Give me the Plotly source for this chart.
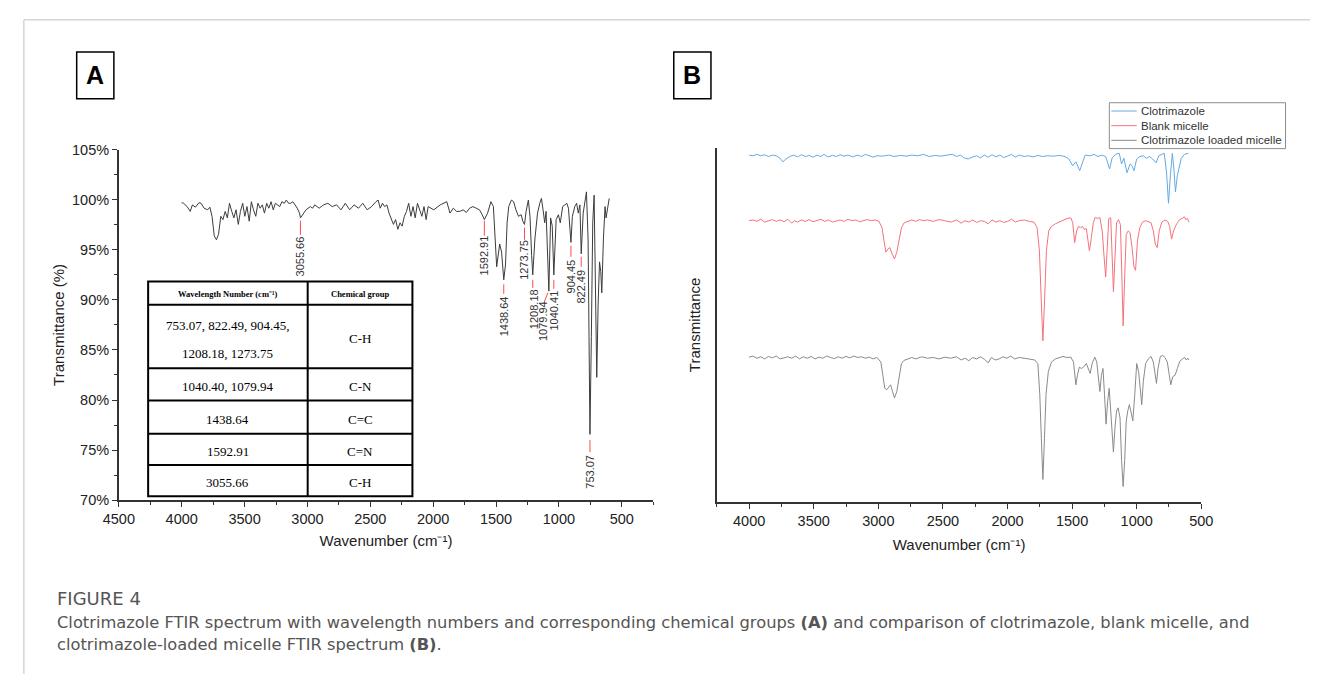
import plotly.graph_objects as go

W, H = 1322, 682

# ---------------- Panel A data: clotrimazole FTIR spectrum ----------------
wn_a = [4000, 3985, 3957, 3932, 3915, 3891, 3863, 3846, 3822, 3794, 3776, 3759, 3741, 3724, 3707,
        3689, 3672, 3654, 3637, 3620, 3602, 3585, 3568, 3550, 3533, 3515, 3498, 3481, 3463, 3446,
        3429, 3411, 3394, 3376, 3359, 3342, 3324, 3307, 3289, 3272, 3255, 3220, 3203, 3185, 3168,
        3150, 3133, 3116, 3081, 3063, 3055.66, 3029, 3011, 2977, 2959, 2942, 2907, 2872, 2838, 2803,
        2768, 2733, 2699, 2664, 2629, 2594, 2560, 2525, 2490, 2455, 2438, 2421, 2403, 2386, 2368,
        2351, 2334, 2316, 2299, 2281, 2264, 2247, 2229, 2212, 2195, 2177, 2160, 2143, 2125, 2108,
        2090, 2073, 2056, 2040, 1995, 1944, 1892, 1866, 1840, 1814, 1788, 1762, 1736, 1710, 1684,
        1658, 1632, 1610, 1592.91, 1567, 1541, 1521, 1502, 1495, 1471, 1456, 1438.64, 1425, 1412,
        1399, 1378, 1360, 1342, 1321, 1300, 1287, 1273.75, 1261, 1243, 1230, 1217, 1208.18, 1191,
        1170, 1152, 1139, 1126, 1113, 1102, 1079.94, 1066, 1053, 1040.41, 1022, 1004, 989, 970,
        957, 937, 924, 904.45, 893, 874, 859, 846, 833, 822.49, 807, 794, 781, 768, 759, 753.07,
        742, 731, 720, 709, 699, 688, 677, 667, 659, 646, 633, 625, 612, 600]
t_a = [99.70, 99.64, 99.31, 98.83, 99.48, 99.25, 99.70, 99.64, 99.15, 98.99, 99.25, 98.34, 96.39, 96.00, 96.55,
       98.34, 98.01, 98.83, 98.18, 99.64, 98.83, 98.18, 98.99, 97.53, 98.83, 99.64, 98.34, 99.31, 97.85, 99.80,
       98.99, 98.34, 99.64, 99.15, 99.48, 98.66, 99.64, 99.15, 99.80, 98.99, 99.64, 99.31, 99.80, 99.64, 99.96,
       99.64, 99.64, 99.80, 99.15, 98.66, 98.18, 98.66, 98.99, 99.31, 99.15, 99.48, 99.15, 99.48, 99.64, 99.31,
       99.48, 98.99, 99.64, 98.99, 99.48, 99.15, 99.64, 98.99, 99.31, 99.80, 99.96, 99.15, 99.64, 99.31, 99.48,
       98.66, 98.18, 97.53, 98.01, 97.04, 97.69, 97.36, 98.34, 98.83, 99.64, 98.34, 99.31, 98.18, 99.64, 98.99,
       98.34, 99.31, 98.01, 99.31, 98.99, 99.48, 99.80, 98.66, 99.15, 98.83, 98.83, 98.99, 98.73, 99.15, 99.31,
       99.15, 98.99, 98.50, 98.01, 98.66, 99.80, 99.31, 94.44, 93.30, 95.58, 94.77, 92.00, 93.47, 97.69,
       99.31, 99.96, 99.80, 98.99, 98.34, 98.50, 97.85, 97.53, 98.83, 99.96, 98.34, 94.44, 92.49, 96.07,
       98.66, 99.64, 100.13, 98.99, 97.69, 98.83, 90.87, 98.18, 97.36, 92.49, 98.01, 98.50, 97.69, 99.31,
       99.48, 99.64, 99.15, 95.74, 98.34, 99.31, 99.64, 98.66, 99.48, 94.60, 98.66, 99.96, 100.78, 96.07, 83.07, 76.57,
       86.32, 97.69, 100.45, 92.82, 82.26, 89.57, 93.79, 92.82, 90.70, 96.07, 99.31, 98.18, 99.31, 100.13]

peak_wn = [3055.66, 1592.91, 1438.64, 1273.75, 1208.18, 1079.94, 1040.41, 904.45, 822.49, 753.07]
peak_text = ["3055.66", "1592.91", "1438.64", "1273.75", "1208.18", "1079.94", "1040.41", "904.45", "822.49", "753.07"]

table_header = ["Wavelength Number (cm\u207b\u00b9)", "Chemical group"]
table_wavenumbers = [["753.07, 822.49, 904.45,", "1208.18, 1273.75"], ["1040.40, 1079.94"], ["1438.64"], ["1592.91"], ["3055.66"]]
table_groups = ["C-H", "C-N", "C=C", "C=N", "C-H"]

# ---------------- Panel B data: stacked spectra (arbitrary offset units) ----------------
wn_clo = [4000, 3970, 3940, 3910, 3880, 3850, 3820, 3790, 3760, 3739, 3715, 3685, 3655, 3625, 3595, 3565, 3535,
          3505, 3475, 3445, 3421, 3391, 3355, 3325, 3295, 3265, 3235, 3199, 3160, 3130, 3100, 3070, 3040, 3010,
          2965, 2920, 2875, 2830, 2785, 2740, 2695, 2650, 2605, 2560, 2515, 2470, 2425, 2395, 2365, 2335, 2305,
          2275, 2239, 2209, 2179, 2149, 2119, 2089, 2059, 2029, 1999, 1969, 1939, 1909, 1870, 1840, 1801, 1765,
          1729, 1690, 1645, 1600, 1555, 1525, 1495, 1471, 1441, 1420, 1399, 1360, 1330, 1300, 1270, 1240, 1210,
          1189, 1159, 1135, 1117, 1099, 1075, 1051, 1036, 1021, 1000, 976, 949, 925, 901, 877, 850, 829, 805,
          787, 769, 754, 739, 724, 712, 700, 685, 670, 655, 631, 610, 600]
t_clo = [97.9, 97.7, 98.1, 97.7, 98.0, 97.5, 97.9, 97.7, 97.0, 96.0, 96.8, 97.5, 97.9, 97.4, 98.0, 97.5, 97.8,
         97.3, 97.9, 97.5, 98.1, 97.4, 97.8, 97.5, 98.0, 97.6, 97.9, 97.4, 97.9, 97.5, 98.1, 97.7, 97.3, 97.7,
         97.6, 97.9, 97.5, 97.8, 97.6, 97.9, 97.7, 98.1, 97.5, 97.8, 97.6, 97.9, 98.1, 97.5, 97.9, 97.1, 96.8,
         97.3, 97.7, 97.1, 97.9, 97.3, 98.0, 97.4, 97.9, 97.2, 97.7, 98.1, 97.3, 97.9, 97.5, 97.7, 97.4, 97.8,
         97.5, 97.7, 97.6, 97.8, 97.5, 96.8, 94.9, 96.0, 93.5, 95.8, 97.9, 97.7, 98.1, 97.5, 97.9, 97.5, 94.0,
         97.2, 98.2, 98.4, 95.4, 97.0, 92.9, 95.4, 94.9, 93.5, 96.8, 97.5, 97.7, 97.0, 97.5, 96.8, 95.7, 97.7, 98.1,
         98.4, 93.1, 84.3, 92.2, 98.4, 94.0, 87.5, 92.2, 94.9, 97.0, 98.1, 98.2, 98.4]

wn_blank = [4000, 3970, 3940, 3910, 3880, 3850, 3820, 3790, 3760, 3730, 3700, 3670, 3649, 3625, 3595, 3565, 3535,
            3505, 3475, 3445, 3415, 3385, 3355, 3325, 3295, 3265, 3235, 3205, 3175, 3145, 3115, 3085, 3055, 3025,
            2995, 2971, 2956, 2941, 2926, 2911, 2893, 2875, 2857, 2839, 2821, 2800, 2770, 2740, 2710, 2680, 2650,
            2620, 2575, 2530, 2485, 2440, 2395, 2359, 2329, 2299, 2269, 2239, 2209, 2179, 2149, 2119, 2089, 2059,
            2029, 1999, 1969, 1939, 1909, 1870, 1831, 1795, 1771, 1753, 1738, 1726, 1714, 1699, 1681, 1660, 1630,
            1600, 1570, 1540, 1510, 1495, 1480, 1465, 1450, 1435, 1420, 1405, 1390, 1375, 1366, 1351, 1336, 1321,
            1303, 1285, 1267, 1252, 1240, 1228, 1216, 1201, 1189, 1180, 1168, 1156, 1141, 1126, 1114, 1105, 1093,
            1081, 1066, 1051, 1036, 1021, 1009, 994, 976, 955, 931, 910, 889, 871, 856, 841, 826, 805, 781, 760,
            745, 730, 715, 691, 667, 649, 631, 619, 607, 595]
t_blank = [79.4, 79.6, 79.2, 79.8, 79.0, 79.4, 79.7, 79.2, 79.6, 79.1, 79.8, 78.7, 79.4, 79.0, 79.6, 79.2, 79.7,
           79.1, 79.5, 79.8, 79.2, 79.6, 79.0, 79.4, 79.6, 79.2, 79.8, 79.4, 79.6, 79.1, 79.5, 79.7, 79.4, 79.6,
           79.2, 77.4, 73.7, 70.5, 71.4, 71.8, 70.0, 68.6, 70.5, 74.6, 77.4, 78.8, 79.2, 79.6, 79.2, 79.7, 79.4,
           79.6, 79.2, 79.7, 79.4, 79.0, 79.6, 78.7, 79.4, 79.0, 79.6, 78.9, 79.4, 79.2, 78.5, 79.6, 79.0, 79.4,
           78.9, 79.2, 79.8, 79.0, 79.4, 79.6, 79.2, 79.0, 77.4, 70.9, 56.2, 45.5, 56.2, 70.9, 76.5, 77.8, 78.5,
           79.0, 79.6, 80.0, 80.2, 78.8, 73.2, 76.5, 77.8, 77.4, 77.8, 76.9, 77.2, 73.7, 70.9, 74.6, 78.8, 80.3,
           80.0, 80.3, 76.5, 69.1, 63.5, 71.8, 80.0, 80.2, 69.1, 59.4, 69.1, 78.8, 79.7, 78.3, 62.6, 49.7, 63.5,
           75.5, 76.5, 76.0, 71.8, 66.3, 65.4, 73.7, 77.4, 79.0, 79.4, 79.2, 78.8, 76.5, 72.8, 71.8, 76.5, 79.0, 79.6, 79.2,
           77.8, 74.2, 76.5, 78.5, 79.7, 80.0, 80.5, 79.7, 80.0, 79.0]

wn_loaded = [4000, 3970, 3940, 3910, 3880, 3850, 3820, 3790, 3760, 3730, 3700, 3670, 3640, 3610, 3580, 3550, 3520,
             3490, 3460, 3430, 3400, 3370, 3340, 3310, 3280, 3250, 3220, 3190, 3160, 3130, 3100, 3070, 3040, 3010,
             2980, 2965, 2950, 2935, 2920, 2905, 2890, 2875, 2857, 2839, 2821, 2800, 2770, 2740, 2710, 2665, 2620,
             2575, 2530, 2485, 2440, 2395, 2359, 2329, 2299, 2269, 2239, 2209, 2179, 2149, 2125, 2095, 2065, 2035,
             2005, 1975, 1945, 1909, 1870, 1825, 1789, 1765, 1750, 1738, 1726, 1714, 1702, 1684, 1660, 1630, 1600,
             1570, 1540, 1510, 1489, 1471, 1459, 1444, 1429, 1411, 1390, 1375, 1360, 1345, 1324, 1309, 1297, 1285,
             1273, 1261, 1249, 1237, 1225, 1213, 1201, 1189, 1180, 1168, 1156, 1144, 1129, 1117, 1105, 1093, 1081,
             1069, 1057, 1045, 1030, 1015, 1000, 985, 970, 961, 949, 931, 910, 889, 871, 859, 847, 835, 817, 799,
             781, 763, 745, 736, 721, 703, 685, 667, 646, 628, 616, 604, 595]
t_loaded = [40.9, 41.2, 40.6, 41.0, 40.4, 41.1, 40.7, 41.2, 40.4, 40.8, 41.0, 40.6, 41.2, 40.4, 41.0, 40.6, 41.1,
            40.4, 40.9, 40.6, 41.2, 40.8, 40.5, 41.0, 40.6, 41.1, 40.7, 41.2, 40.8, 41.0, 40.6, 40.9, 40.4, 40.8,
            39.5, 35.8, 32.1, 31.7, 32.6, 33.1, 31.2, 29.4, 31.2, 35.8, 39.1, 40.0, 40.4, 40.8, 40.4, 41.0, 40.6,
            40.8, 40.4, 40.9, 40.6, 41.0, 40.1, 40.6, 39.9, 40.8, 40.4, 41.0, 40.3, 39.3, 40.8, 40.1, 40.4, 41.0,
            40.6, 41.2, 40.4, 40.8, 40.6, 40.4, 40.1, 39.1, 30.3, 18.0, 6.4, 18.0, 30.3, 36.8, 39.5, 40.4, 40.8,
            41.1, 40.8, 40.9, 39.5, 33.1, 35.8, 38.1, 37.7, 38.1, 39.1, 37.7, 36.3, 39.1, 40.9, 39.5, 35.8, 31.2,
            35.8, 37.7, 30.3, 22.0, 28.4, 32.1, 25.7, 18.3, 14.1, 21.1, 25.7, 26.6, 23.8, 11.8, 4.4, 11.8, 22.9,
            25.7, 27.5, 25.7, 22.9, 30.3, 39.1, 36.8, 30.3, 27.5, 34.0, 39.1, 40.4, 41.1, 39.5, 35.8, 33.5, 37.7, 41.1, 41.4,
            40.8, 39.5, 35.4, 33.1, 35.4, 35.8, 37.7, 39.7, 40.4, 40.8, 40.1, 40.6, 40.1]

series_names = ["Clotrimazole", "Blank micelle", "Clotrimazole loaded micelle"]
series_colors = ["#63aae4", "#f4727c", "#8a8a8a"]

x_title = "Wavenumber (cm\u207b\u00b9)"
caption_title = "FIGURE 4"
caption_lines = [
    "Clotrimazole FTIR spectrum with wavelength numbers and corresponding chemical groups <b>(A)</b> and comparison of clotrimazole, blank micelle, and",
    "clotrimazole-loaded micelle FTIR spectrum <b>(B)</b>.",
]

# ---------------- layout helpers (pixel -> paper) ----------------
def px(x):
    return x / W


def py(y):
    return 1 - y / H


AX = "#333333"
SANS = "Liberation Sans, Arial, sans-serif"
SERIF = "Liberation Serif, Times New Roman, serif"
CAP = "DejaVu Sans, Verdana, sans-serif"

fig = go.Figure()

fig.add_trace(go.Scatter(x=wn_a, y=t_a, mode="lines", line=dict(color="#3c3c3c", width=1),
                         xaxis="x", yaxis="y", showlegend=False, hoverinfo="skip"))

for wn, tv, name, col in zip([wn_clo, wn_blank, wn_loaded], [t_clo, t_blank, t_loaded], series_names, series_colors):
    fig.add_trace(go.Scatter(x=wn, y=tv, mode="lines", name=name, line=dict(color=col, width=1),
                             xaxis="x2", yaxis="y2", showlegend=False))

shapes = []
annotations = []


def note(x, y, text, size, family=SANS, color="#333", xanchor="center", yanchor="middle", angle=0,
         xref="paper", yref="paper", weight="normal"):
    annotations.append(dict(x=x, y=y, xref=xref, yref=yref, text=text, showarrow=False, textangle=angle,
                            xanchor=xanchor, yanchor=yanchor,
                            font=dict(family=family, size=size, color=color, weight=weight)))


# peak label lines (top, bottom in %), label centre (%), label x
label_lines = {
    "3055.66": (97.9, 96.5, 94.38, 3055.66),
    "1592.91": (97.9, 96.4, 94.47, 1592.91),
    "1438.64": (91.55, 90.6, 88.33, 1438.64),
    "1273.75": (97.2, 96.0, 94.04, 1273.75),
    "1208.18": (92.0, 91.2, 89.11, 1203.0),
    "1079.94": (90.7, 89.7, 87.85, 1121.0),
    "1040.41": (92.0, 91.1, 88.92, 1040.41),
    "904.45": (95.4, 94.3, 92.33, 904.45),
    "822.49": (94.3, 93.3, 91.35, 822.49),
    "753.07": (76.0, 74.8, 72.84, 753.07),
}
for wn, txt in zip(peak_wn, peak_text):
    top, bot, mid, lx = label_lines[txt]
    x0, x1 = (1088.0, 1119.0) if txt == "1079.94" else (wn, wn)
    shapes.append(dict(type="line", xref="x", yref="y", x0=x0, x1=x1, y0=top, y1=bot,
                       line=dict(color="#ff4b4b", width=1)))
    note(lx, mid, txt, 11, angle=-90, xref="x", yref="y")

# table in panel A
tl, tr, tc = 135, 405, 298
row_edges = [280, 304, 369, 402, 436, 468, 500]
shapes.append(dict(type="rect", xref="paper", yref="paper", x0=px(tl), x1=px(tr), y0=py(row_edges[-1]), y1=py(row_edges[0]),
                   line=dict(color="black", width=2), fillcolor="white", layer="above"))
for ry in row_edges[1:-1]:
    shapes.append(dict(type="line", xref="paper", yref="paper", x0=px(tl), x1=px(tr), y0=py(ry), y1=py(ry),
                       line=dict(color="black", width=2)))
shapes.append(dict(type="line", xref="paper", yref="paper", x0=px(tc), x1=px(tc), y0=py(row_edges[0]), y1=py(row_edges[-1]),
                   line=dict(color="black", width=2)))
c1 = (tl + tc) / 2
c2 = (tc + tr) / 2
hy = (row_edges[0] + row_edges[1]) / 2 + 1
note(px(c1), py(hy), table_header[0], 8.5, family=SERIF, color="black", weight="bold")
note(px(c2), py(hy), table_header[1], 8.5, family=SERIF, color="black", weight="bold")
for i, (lines, grp) in enumerate(zip(table_wavenumbers, table_groups)):
    r0, r1 = row_edges[i + 1], row_edges[i + 2]
    mid = (r0 + r1) / 2 + 2
    ys = [mid] if len(lines) == 1 else [mid - 13.5, mid + 15.5]
    for ln, yy in zip(lines, ys):
        note(px(c1), py(yy), ln, 13, family=SERIF, color="black")
    note(px(c2), py(mid), grp, 13, family=SERIF, color="black")

# panel letters
for letter, x0 in (("A", 62), ("B", 672)):
    shapes.append(dict(type="rect", xref="paper", yref="paper", x0=px(x0), x1=px(x0 + 38), y0=py(93), y1=py(45),
                       line=dict(color="black", width=1.5), fillcolor="white"))
    note(px(x0 + 19), py(69), letter, 25, color="black", weight="bold")

# manual legend for panel B
leg_l, leg_r, leg_t, leg_b = 1117, 1297, 97, 144
shapes.append(dict(type="rect", xref="paper", yref="paper", x0=px(leg_l), x1=px(leg_r), y0=py(leg_b), y1=py(leg_t),
                   line=dict(color="#8c8c8c", width=1), fillcolor="white"))
for k, (name, col) in enumerate(zip(series_names, series_colors)):
    yy = 105.5 + 15 * k
    shapes.append(dict(type="line", xref="paper", yref="paper", x0=px(leg_l + 2), x1=px(leg_l + 28), y0=py(yy), y1=py(yy),
                       line=dict(color=col, width=1)))
    note(px(leg_l + 30), py(yy), name, 11.5, xanchor="left")

# figure frame
shapes.append(dict(type="line", xref="paper", yref="paper", x0=px(8), x1=1, y0=py(12), y1=py(12),
                   line=dict(color="#d6d6d6", width=1.5)))
shapes.append(dict(type="line", xref="paper", yref="paper", x0=px(8), x1=px(8), y0=py(12), y1=0,
                   line=dict(color="#d6d6d6", width=1.5)))

# caption
note(px(40), py(605), caption_title, 18, family=CAP, color="#555", xanchor="left")
for i, ln in enumerate(caption_lines):
    note(px(40), py(629 + 23 * i), ln, 16.3, family=CAP, color="#555", xanchor="left")

tickfont = dict(family=SANS, size=14.5, color="#222")
titlefont = dict(family=SANS, size=15, color="#222")

fig.update_layout(
    width=W, height=H, margin=dict(l=0, r=0, t=0, b=0),
    paper_bgcolor="white", plot_bgcolor="white",
    shapes=shapes, annotations=annotations, showlegend=False,
    xaxis=dict(domain=[px(105), px(651)], range=[4500.5, 250], anchor="y",
               tickmode="linear", tick0=500, dtick=500, ticks="outside", ticklen=5, tickwidth=1.2, tickcolor=AX,
               minor=dict(dtick=250, tick0=0, ticks="outside", ticklen=3, tickcolor=AX),
               showline=True, linecolor=AX, linewidth=1.5, showgrid=False, zeroline=False, tickfont=tickfont,
               title=dict(text=x_title, font=titlefont, standoff=9)),
    yaxis=dict(domain=[py(504), py(145)], range=[70, 105], anchor="x",
               tickmode="linear", tick0=70, dtick=5, ticksuffix="%", ticks="outside", ticklen=5, tickwidth=1.2, tickcolor=AX,
               minor=dict(dtick=2.5, ticks="outside", ticklen=3, tickcolor=AX),
               showline=True, linecolor=AX, linewidth=1.5, showgrid=False, zeroline=False, tickfont=tickfont,
               title=dict(text="Transmittance (%)", font=titlefont, standoff=4)),
    xaxis2=dict(domain=[px(716), px(1211)], range=[4250, 499.5], anchor="y2",
                tickmode="linear", tick0=500, dtick=500, ticks="outside", ticklen=5, tickwidth=1.2, tickcolor=AX,
                minor=dict(dtick=250, tick0=0, ticks="outside", ticklen=3, tickcolor=AX),
                showline=True, linecolor=AX, linewidth=1.5, showgrid=False, zeroline=False, tickfont=tickfont,
                title=dict(text=x_title, font=titlefont, standoff=11)),
    yaxis2=dict(domain=[py(506), py(143)], range=[0, 100], anchor="x2",
                showticklabels=False, ticks="", showline=True, linecolor=AX, linewidth=1.5,
                showgrid=False, zeroline=False,
                title=dict(text="Transmittance", font=titlefont, standoff=11)),
)

fig.write_html("out.html", post_script="document.body.style.margin='0px';document.documentElement.style.margin='0px';")
